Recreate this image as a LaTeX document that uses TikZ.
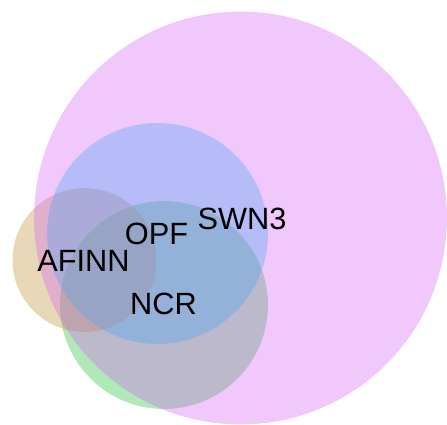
\documentclass[tikz,border=0pt]{standalone}
\usepackage{fontspec}
\setmainfont{Liberation Sans}
\usepackage{tikz}
\definecolor{swnpink}{RGB}{212,98,246}
\definecolor{opfblue}{RGB}{4,200,238}
\definecolor{afinntan}{RGB}{189,144,52}
\definecolor{ncrgreen}{RGB}{29,189,52}

\begin{document}
\begin{tikzpicture}[x=0.02cm, y=-0.02cm,
    set/.style={circle, draw=none, inner sep=0pt, minimum size=#1, fill opacity=0.35},
    lbl/.style={inner sep=0pt, text=black, font=\fontsize{17.5}{20}\selectfont}]
\useasboundingbox (0,0) rectangle (447,424);

% Sets (bottom to top)
\node[set=4.16cm, fill=ncrgreen] (ncr) at (164,305) {};
\node[set=2.88cm, fill=afinntan] (afinn) at (84.5,260) {};
\node[set=4.42cm, fill=opfblue] (opf) at (157.5,233.5) {};
\node[set=8.26cm, fill=swnpink] (swn) at (240.5,218) {};

% Labels
\node[lbl] (swnlabel) at (242,219) {SWN3};
\node[lbl] (opflabel) at (156.5,234) {OPF};
\node[lbl] (afinnlabel) at (83.5,260.5) {AFINN};
\node[lbl] (ncrlabel) at (163.5,304) {NCR};
\end{tikzpicture}
\end{document}
